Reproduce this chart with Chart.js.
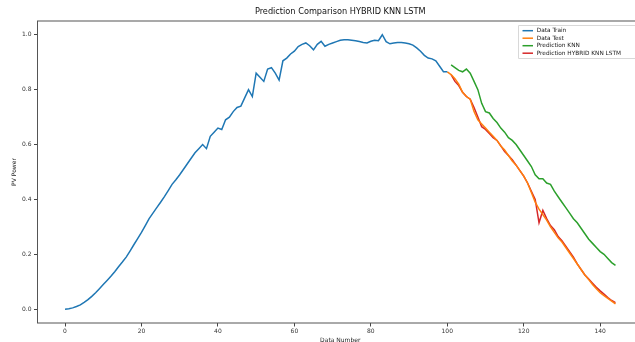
<!DOCTYPE html>
<html>
<head>
<meta charset="utf-8">
<script src="https://cdn.jsdelivr.net/npm/chart.js@4/dist/chart.umd.min.js"></script>
<style>
html,body{margin:0;padding:0;background:#fff;overflow:hidden;}
#wrap{width:660px;height:342px;}
</style>
</head>
<body>
<div id="wrap"><canvas id="c" width="660" height="342"></canvas></div>
<script>
const titleText = "Prediction Comparison HYBRID KNN LSTM";
const xLabel = "Data Number";
const yLabel = "PV Power";
const seriesNames = ["Data Train", "Data Test", "Prediction KNN", "Prediction HYBRID KNN LSTM"];
const xTicks = [0, 20, 40, 60, 80, 100, 120, 140];
const yTicks = [0.0, 0.2, 0.4, 0.6, 0.8, 1.0];

const trainStart = 0;
const trainValues = [
0.000,0.002,0.005,0.010,0.016,0.025,0.035,0.047,0.060,0.075,
0.090,0.105,0.120,0.137,0.155,0.172,0.190,0.212,0.235,0.257,
0.280,0.305,0.330,0.350,0.370,0.390,0.410,0.432,0.455,0.472,
0.490,0.510,0.530,0.550,0.570,0.585,0.600,0.585,0.630,0.645,
0.660,0.655,0.690,0.700,0.720,0.735,0.740,0.770,0.800,0.775,
0.860,0.845,0.830,0.875,0.880,0.860,0.835,0.905,0.915,0.930,
0.940,0.957,0.965,0.970,0.960,0.945,0.965,0.976,0.958,0.965,
0.970,0.975,0.980,0.982,0.982,0.980,0.978,0.975,0.972,0.970,
0.976,0.980,0.978,1.000,0.975,0.967,0.970,0.972,0.972,0.970,
0.967,0.962,0.952,0.940,0.925,0.915,0.912,0.905,0.885,0.865,
0.865];

const testStart = 100;
const testValues = [
0.865,0.855,0.840,0.820,0.790,0.775,0.765,0.720,0.690,0.675,
0.660,0.645,0.630,0.615,0.595,0.580,0.560,0.540,0.525,0.505,
0.485,0.460,0.425,0.390,0.365,0.345,0.325,0.300,0.280,0.260,
0.245,0.225,0.205,0.185,0.165,0.145,0.125,0.108,0.090,0.075,
0.060,0.050,0.040,0.030,0.020];

const knnStart = 101;
const knnValues = [
0.890,0.880,0.870,0.865,0.875,0.860,0.830,0.800,0.750,0.720,
0.715,0.695,0.680,0.660,0.645,0.625,0.615,0.600,0.580,0.560,
0.540,0.520,0.490,0.475,0.475,0.460,0.455,0.430,0.410,0.390,
0.370,0.350,0.330,0.315,0.295,0.275,0.255,0.240,0.225,0.210,
0.200,0.185,0.170,0.160];

const hybridStart = 101;
const hybridValues = [
0.855,0.830,0.815,0.790,0.775,0.765,0.735,0.700,0.665,0.655,
0.640,0.625,0.615,0.595,0.575,0.560,0.545,0.525,0.505,0.485,
0.460,0.430,0.400,0.315,0.360,0.330,0.305,0.290,0.265,0.250,
0.230,0.210,0.190,0.165,0.145,0.125,0.110,0.095,0.080,0.067,
0.055,0.043,0.032,0.024];

const colors = ["#1f77b4", "#ff7f0e", "#2ca02c", "#d62728"];

function pts(start, vals){ return vals.map((v,i)=>({x:start+i, y:v})); }

const FONT = "'DejaVu Sans', sans-serif";

const framePlugin = {
  id: 'frame',
  afterDatasetsDraw(chart){
    const {ctx, chartArea:a} = chart;
    ctx.save();
    ctx.strokeStyle = '#555';
    ctx.lineWidth = 1;
    ctx.strokeRect(a.left, a.top, a.right - a.left, a.bottom - a.top);
    // title centred over the axes, as matplotlib does
    ctx.fillStyle = '#111';
    ctx.font = "8.2px " + FONT;
    ctx.textAlign = 'center';
    ctx.textBaseline = 'middle';
    ctx.fillText(titleText, (a.left + a.right) / 2, 12);
    ctx.restore();
  }
};

const legendPlugin = {
  id: 'mplLegend',
  afterDraw(chart){
    const ctx = chart.ctx;
    const ds = chart.data.datasets;
    ctx.save();
    ctx.fillStyle = 'rgba(255,255,255,0.8)';
    ctx.strokeStyle = '#d8d8d8';
    ctx.lineWidth = 1;
    ctx.beginPath();
    ctx.rect(518.5, 25.5, 120, 33);
    ctx.fill();
    ctx.stroke();
    ctx.font = "5.8px " + FONT;
    ctx.textBaseline = 'middle';
    ctx.textAlign = 'left';
    ds.forEach((d, k) => {
      const y = 30.7 + 7.5 * k;
      ctx.strokeStyle = d.borderColor;
      ctx.lineWidth = 1.5;
      ctx.beginPath();
      ctx.moveTo(522.5, y);
      ctx.lineTo(533, y);
      ctx.stroke();
      ctx.fillStyle = '#222';
      ctx.fillText(d.label, 536.7, y);
    });
    ctx.restore();
  }
};

const mk = (label, data, color) => ({
  label, data, borderColor: color, backgroundColor: color,
  borderWidth: 1.5, pointRadius: 0, tension: 0, fill: false
});

new Chart(document.getElementById('c'), {
  type: 'line',
  data: {
    datasets: [
      mk(seriesNames[0], pts(trainStart, trainValues), colors[0]),
      mk(seriesNames[1], pts(testStart, testValues), colors[1]),
      mk(seriesNames[2], pts(knnStart, knnValues), colors[2]),
      mk(seriesNames[3], pts(hybridStart, hybridValues), colors[3])
    ]
  },
  options: {
    responsive: false,
    animation: false,
    devicePixelRatio: 1,
    layout: { padding: { top: 21, left: 0, right: 17, bottom: 0 } },
    plugins: {
      legend: { display: false },
      tooltip: { enabled: false },
      title: { display: false }
    },
    scales: {
      x: {
        type: 'linear', min: -7.2, max: 151.2,
        afterBuildTicks: (s) => { s.ticks = xTicks.map(v => ({value: v})); },
        afterFit: (s) => { s.height = 19; },
        grid: { display: true, drawOnChartArea: false, drawTicks: true, tickLength: 3.5, tickColor: '#444', color: '#444' },
        border: { display: false },
        ticks: { color: '#333', padding: 1.5, maxRotation: 0, autoSkip: false, font: { family: FONT, size: 6 } },
        title: { display: true, text: xLabel, color: '#222', padding: { top: 0, bottom: -2.5 }, font: { family: FONT, size: 6 } }
      },
      y: {
        type: 'linear', min: -0.05, max: 1.05,
        afterBuildTicks: (s) => { s.ticks = yTicks.map(v => ({value: v})); },
        afterFit: (s) => { s.width = 37.5; },
        grid: { display: true, drawOnChartArea: false, drawTicks: true, tickLength: 3.5, tickColor: '#444', color: '#444' },
        border: { display: false },
        ticks: { color: '#333', padding: 2.5, autoSkip: false, font: { family: FONT, size: 6 },
                 callback: (v) => Number(v).toFixed(1) },
        title: { display: true, text: yLabel, color: '#222', padding: { top: 11, bottom: 0 }, font: { family: FONT, size: 6 } }
      }
    }
  },
  plugins: [framePlugin, legendPlugin]
});
</script>
</body>
</html>
